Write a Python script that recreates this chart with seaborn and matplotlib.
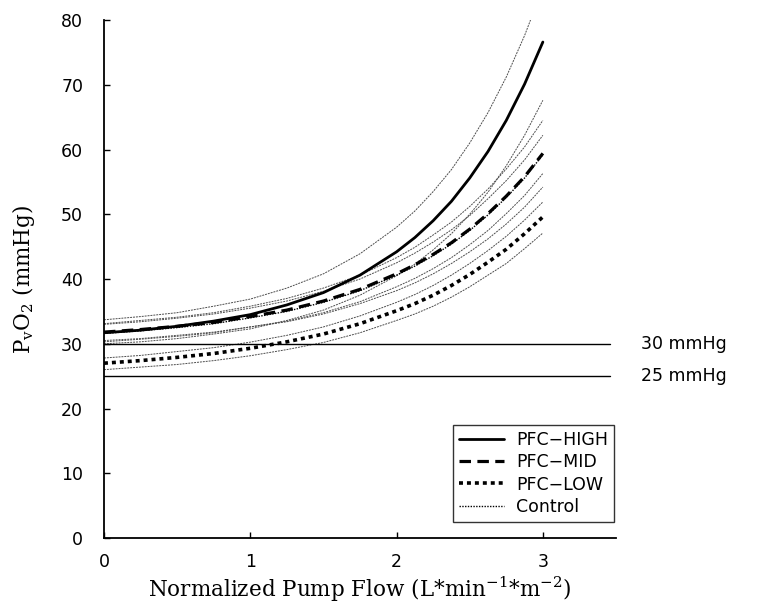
import matplotlib
matplotlib.use("Agg")
import matplotlib.pyplot as plt
import seaborn as sns

# ================= DATA =================
flow = [0.0, 0.25, 0.5, 0.75, 1.0, 1.25, 1.5, 1.75, 2.0,
        2.125, 2.25, 2.375, 2.5, 2.625, 2.75, 2.875, 3.0]

pfc_high = [31.7, 32.1, 32.7, 33.5, 34.5, 36.0, 37.9, 40.6, 44.2,
            46.4, 49.0, 52.0, 55.6, 59.7, 64.5, 70.1, 76.6]
pfc_mid = [31.8, 32.2, 32.7, 33.3, 34.2, 35.2, 36.6, 38.4, 40.8,
           42.2, 43.8, 45.6, 47.7, 50.1, 52.8, 55.8, 59.4]
pfc_low = [27.0, 27.4, 27.9, 28.5, 29.3, 30.3, 31.5, 33.1, 35.1,
           36.2, 37.5, 39.0, 40.7, 42.6, 44.6, 47.0, 49.6]
control = [31.6, 32.0, 32.5, 33.1, 34.0, 35.0, 36.4, 38.2, 40.6,
           42.0, 43.6, 45.4, 47.5, 49.9, 52.6, 55.6, 59.2]

# thin confidence limits
high_upper = [33.7, 34.2, 34.8, 35.8, 36.9, 38.6, 40.8, 43.9, 48.0,
              50.5, 53.5, 56.9, 61.0, 65.7, 71.2, 77.6, 85.0]
high_lower = [30.0, 30.3, 30.8, 31.5, 32.3, 33.6, 35.2, 37.5, 40.5,
              42.3, 44.5, 47.0, 50.0, 53.4, 57.5, 62.2, 67.6]
mid_upper = [33.1, 33.6, 34.1, 34.8, 35.8, 37.0, 38.6, 40.6, 43.3,
             44.9, 46.8, 48.8, 51.2, 53.9, 57.0, 60.4, 64.5]
mid_lower = [30.5, 30.8, 31.3, 31.8, 32.6, 33.4, 34.6, 36.2, 38.2,
             39.4, 40.8, 42.4, 44.2, 46.2, 48.5, 51.1, 54.2]
ctrl_upper = [33.0, 33.4, 33.95, 34.6, 35.5, 36.6, 38.1, 40.0, 42.5,
              44.0, 45.7, 47.6, 49.8, 52.4, 55.2, 58.4, 62.2]
ctrl_lower = [30.3, 30.7, 31.15, 31.7, 32.6, 33.5, 34.8, 36.5, 38.8,
              40.1, 41.6, 43.3, 45.3, 47.5, 50.1, 52.9, 56.3]
low_upper = [27.8, 28.2, 28.8, 29.4, 30.25, 31.3, 32.6, 34.3, 36.4,
             37.6, 39.0, 40.6, 42.4, 44.4, 46.6, 49.1, 51.9]
low_lower = [26.0, 26.4, 26.8, 27.4, 28.15, 29.1, 30.2, 31.7, 33.6,
             34.6, 35.8, 37.2, 38.8, 40.6, 42.4, 44.7, 47.1]

ref_levels = [30, 25]
ref_labels = ["30 mmHg", "25 mmHg"]
ref_span = [0.0, 3.46]

# ================= STYLE =================
sns.set_style("white")
plt.rcParams["font.family"] = ["DejaVu Sans"]
plt.rcParams["text.color"] = "black"
plt.rcParams["axes.labelcolor"] = "black"
plt.rcParams["xtick.color"] = "black"
plt.rcParams["ytick.color"] = "black"
plt.rcParams["mathtext.fontset"] = "custom"
plt.rcParams["mathtext.rm"] = "DejaVu Serif"

fig = plt.figure(figsize=(7.59, 6.16), dpi=100)
ax = fig.add_axes([0.137, 0.1266, 0.6746, 0.8409])

# ================= BANDS =================
bands = [high_upper, high_lower, mid_upper, mid_lower,
         ctrl_upper, ctrl_lower, low_upper, low_lower]
for b in bands:
    sns.lineplot(x=flow, y=b, ax=ax, color="0.3", lw=0.7,
                 linestyle=(0, (2, 1)), legend=False)

# ================= REFERENCE LINES =================
for lvl, lab in zip(ref_levels, ref_labels):
    sns.lineplot(x=ref_span, y=[lvl, lvl], ax=ax, color="black", lw=1.0, legend=False)
    ax.text(3.67, lvl, lab, fontsize=12.5, va="center", ha="left", clip_on=False)

# ================= MAIN CURVES =================
sns.lineplot(x=flow, y=control, ax=ax, color="black", lw=1.0,
             linestyle=(0, (1, 1)), label="Control")
sns.lineplot(x=flow, y=pfc_low, ax=ax, color="black", lw=2.6,
             linestyle=(0, (1.1, 1.1)), label="PFC\u2212LOW")
sns.lineplot(x=flow, y=pfc_mid, ax=ax, color="black", lw=2.3,
             linestyle=(0, (3.6, 2.0)), label="PFC\u2212MID")
sns.lineplot(x=flow, y=pfc_high, ax=ax, color="black", lw=2.0,
             linestyle="-", label="PFC\u2212HIGH")

# ================= AXES =================
ax.set_xlim(0, 3.5)
ax.set_ylim(0, 80)
ax.set_xticks([0, 1, 2, 3])
ax.set_yticks(range(0, 81, 10))
sns.despine(ax=ax)
for s in ["left", "bottom"]:
    ax.spines[s].set_linewidth(1.3)
    ax.spines[s].set_color("black")
ax.tick_params(axis="y", direction="in", length=4.5, width=1, labelsize=12.5, pad=15)
ax.tick_params(axis="x", direction="in", length=4.5, width=1, labelsize=12.5, pad=10.5)
ax.tick_params(left=True, bottom=True)

ax.set_xlabel(r"Normalized Pump Flow (L*min$^{\mathregular{-1}}$*m$^{\mathregular{-2}}$)",
              family="DejaVu Serif", fontsize=15.5)
ax.set_ylabel(r"P$_{\mathregular{v}}$O$_{\mathregular{2}}$ (mmHg)",
              family="DejaVu Serif", fontsize=15.5)
ax.xaxis.set_label_coords(0.5, -0.07)
ax.yaxis.set_label_coords(-0.13, 0.5)

# legend in reference order
handles, labels = ax.get_legend_handles_labels()
order = ["PFC\u2212HIGH", "PFC\u2212MID", "PFC\u2212LOW", "Control"]
hmap = dict(zip(labels, handles))
leg = ax.legend([hmap[k] for k in order], order, loc="lower right",
                bbox_to_anchor=(0.996, 0.031), borderaxespad=0,
                fontsize=12.5, frameon=True, fancybox=False,
                handlelength=2.6, handletextpad=0.7, labelspacing=0.25,
                borderpad=0.35)
leg.get_frame().set_edgecolor("black")
leg.get_frame().set_linewidth(1.0)

fig.savefig("out.png", dpi=100)
